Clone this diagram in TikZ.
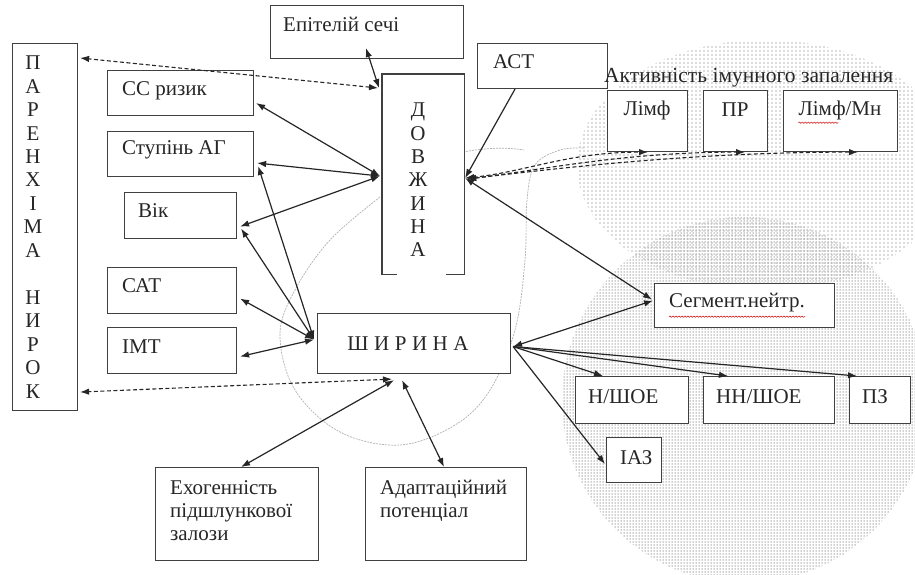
\documentclass[tikz,border=0pt]{standalone}
\usepackage{fontspec}
\setmainfont{Liberation Serif}
\newfontfamily\tnr{Liberation Serif}
\usetikzlibrary{arrows.meta,calc,patterns,decorations.pathmorphing}
\pgfdeclarepatternformonly{densedots}{\pgfqpoint{-1pt}{-1pt}}{\pgfqpoint{1pt}{1pt}}{\pgfqpoint{3pt}{3pt}}{\pgfpathcircle{\pgfqpoint{0pt}{0pt}}{0.75pt}\pgfusepath{fill}}
\pgfdeclarepatternformonly{sparsedots}{\pgfqpoint{-1pt}{-1pt}}{\pgfqpoint{1pt}{1pt}}{\pgfqpoint{4pt}{4pt}}{\pgfpathcircle{\pgfqpoint{0pt}{0pt}}{0.8pt}\pgfusepath{fill}}
\newcommand\mybox[5]{\node[box,minimum width={(#4-#2)*1pt},minimum height={(#5-#3)*1pt}] (#1) at (#2,#3) {};}
\begin{document}
\begin{tikzpicture}[x=1pt,y=-1pt,
 box/.style={draw=black!75,line width=1.1pt,fill=white,inner sep=0pt,anchor=north west},
 txt/.style={font=\tnr\fontsize{21}{24}\selectfont,inner sep=0pt,text=black!85},
 con/.style={line width=1.2pt,black!85,>={Latex[length=9pt,width=6.5pt]}},
 dsh/.style={con,line width=1.1pt,dash pattern=on 4pt off 2.5pt},
 guide/.style={gray!60,line width=0.7pt,dash pattern=on 2pt off 1pt},
 spell/.style={red!80!black,line width=0.5pt,decorate,decoration={snake,amplitude=0.7pt,segment length=3pt}}]
\useasboundingbox (0,0) rectangle (915,575);
\fill[white] (0,0) rectangle (915,575);
% shaded regions
\path[pattern=sparsedots,pattern color=gray!55] (765,165) ellipse [x radius=188,y radius=125];
\path[pattern=densedots,pattern color=gray!75] (745,400) circle [radius=183];
% thin guide curves
\draw[guide] plot[smooth,tension=0.6] coordinates {(380,197) (330,240) (295,290) (280,335) (295,390) (340,432) (400,445) (455,425) (490,390) (515,330) (525,260) (527,200) (535,165) (560,150) (585,148)};
\draw[guide] (463,152) .. controls (485,148) and (505,147) .. (524,150);
% boxes
\mybox{par}{12}{43}{77}{410}
\mybox{ep}{270}{5}{463}{58}
\mybox{cc}{107}{70}{253}{115}
\mybox{st}{107}{131}{253}{176}
\mybox{vik}{124}{192}{236}{238}
\mybox{sat}{107}{267}{236}{313}
\mybox{imt}{107}{327}{236}{373}
\node[box,draw=none,minimum width=81pt,minimum height=199pt] (dov) at (382,74) {};
\draw[black!75,line width=1.1pt] ($(dov.south west)+(15,0)$) -- (dov.south west) -- (dov.north west) -- (dov.north east) -- (dov.south east) -- ($(dov.south east)+(-18,0)$);
\mybox{act}{477}{43}{607}{88}
\mybox{limf}{607}{90}{687}{151}
\mybox{pr}{703}{90}{767}{151}
\mybox{lmn}{783}{90}{897}{151}
\mybox{seg}{654}{283}{834}{327}
\mybox{shyr}{317}{313}{510}{373}
\mybox{nsh}{575}{376}{688}{423}
\mybox{nnsh}{703}{376}{834}{423}
\mybox{pz}{849}{376}{910}{423}
\mybox{iaz}{606}{437}{661}{482}
\mybox{ekz}{155}{467}{318}{560}
\mybox{adap}{365}{467}{526}{560}
% texts
\node[txt,align=center,font=\tnr\fontsize{21}{23.45}\selectfont] (part) at (33,227) {П\\А\\Р\\Е\\Н\\Х\\І\\М\\А\\ \\Н\\И\\Р\\О\\К};
\node[txt,align=center,font=\tnr\fontsize{21}{23.3}\selectfont] (dovt) at (418,180) {Д\\О\\В\\Ж\\И\\Н\\А};
\node[txt,anchor=west] (ept) at (283,24) {Епітелій сечі};
\node[txt,anchor=west] (cct) at (122,91) {СС ризик};
\node[txt,anchor=west] (stt) at (122,150) {Ступінь АГ};
\node[txt,anchor=west] (vikt) at (138,211) {Вік};
\node[txt,anchor=west] (satt) at (122,286) {САТ};
\node[txt,anchor=west] (imtt) at (122,347) {ІМТ};
\node[txt,anchor=west] (actt) at (493,62) {АСТ};
\node[txt,anchor=west,font=\tnr\fontsize{21.5}{24}\selectfont] (titl) at (604,78) {Активність імунного запалення};
\node[txt] (limft) at (647,110) {Лімф};
\node[txt] (prt) at (735,110) {ПР};
\node[txt] (lmnt) at (840,110) {Лімф/Мн};
\node[txt,anchor=west] (segt) at (669,303) {Сегмент.нейтр.};
\node[txt] (shyrt) at (408,344) {Ш\hspace{5.5pt}И\hspace{5.5pt}Р\hspace{5.5pt}И\hspace{5.5pt}Н\hspace{5.5pt}А};
\node[txt,anchor=west] (nsht) at (588,397) {Н/ШОЕ};
\node[txt,anchor=west] (nnsht) at (716,397) {НН/ШОЕ};
\node[txt,anchor=west] (pzt) at (862,397) {ПЗ};
\node[txt,anchor=west] (iazt) at (620,458) {ІАЗ};
\node[txt,anchor=north west,align=left,font=\tnr\fontsize{21}{23}\selectfont] (ekzt) at (170,480) {Ехогенність\\підшлункової\\залози};
\node[txt,anchor=north west,align=left,font=\tnr\fontsize{21}{23}\selectfont] (adapt) at (380,480) {Адаптаційний\\потенціал};
% spell-check underlines
\draw[spell] ($(lmnt.south west)+(0,3)$) -- ($(lmnt.south west)+(40,3)$);
\draw[spell] ($(segt.south west)+(0,4)$) -- ($(segt.south east)+(0,4)$);
% hubs
\coordinate (dL) at ($(dov.west)+(-2,2)$);
\coordinate (dR) at ($(dov.east)+(1,4)$);
\coordinate (dR2) at ($(dov.east)+(3,5)$);
\coordinate (shL) at ($(shyr.west)+(-3,-4)$);
\coordinate (shR) at ($(shyr.east)+(2,3)$);
\coordinate (shB1) at ($(shyr.south)+(-20,6)$);
\coordinate (shB2) at ($(shyr.south)+(-12,6)$);
% solid connectors
\draw[con,<->] (dL) -- ($(cc.east)+(2,10)$);
\draw[con,<->] (dL) -- ($(st.east)+(3,9)$);
\draw[con,<->] (dL) -- ($(vik.east)+(3,11)$);
\draw[con,<->] ($(ep.south west)+(96,-11)$) -- ($(dov.north west)+(-3,14)$);
\draw[con,<->] (shL) -- ($(st.east)+(4,12)$);
\draw[con,<->] (shL) -- ($(vik.east)+(4,13)$);
\draw[con,<->] (shL) -- ($(sat.east)+(3,8)$);
\draw[con,<->] (shL) -- ($(imt.east)+(3,6)$);
\draw[con,<->] (shB1) -- ($(ekz.north)+(4,0)$);
\draw[con,<->] (shB2) -- ($(adap.north)+(-2,0)$);
\draw[con,->] ($(act.south west)+(38,0)$) -- (dR);
\draw[con,<->] (dR) -- ($(seg.west)+(-2,-6)$);
\draw[con,<->] (shR) -- ($(seg.west)+(-1,-5)$);
\draw[con,->] (shR) -- ($(nsh.north west)+(28,0)$);
\draw[con,->] (shR) -- ($(nnsh.north west)+(25,0)$);
\draw[con,->] (shR) -- ($(pz.north west)+(8,0)$);
\draw[con,->] (shR) -- ($(iaz.west)+(-1,4)$);
% dashed connectors
\draw[dsh,<->] ($(dov.north west)+(-4,14)$) -- ($(par.north east)+(2,15)$);
\draw[dsh,<->] ($(shyr.south)+(-22,5)$) -- ($(par.east)+(2,165)$);
\draw[dsh,<->] (dR) .. controls +(60,-6) and +(-80,0) .. ($(limf.south west)+(41,0)$);
\draw[dsh,<->] (dR2) .. controls +(80,-10) and +(-120,0) .. ($(pr.south west)+(42,0)$);
\draw[dsh,<->] (dR2) .. controls +(100,-12) and +(-160,0) .. ($(lmn.south west)+(75,0)$);
\end{tikzpicture}
\end{document}
